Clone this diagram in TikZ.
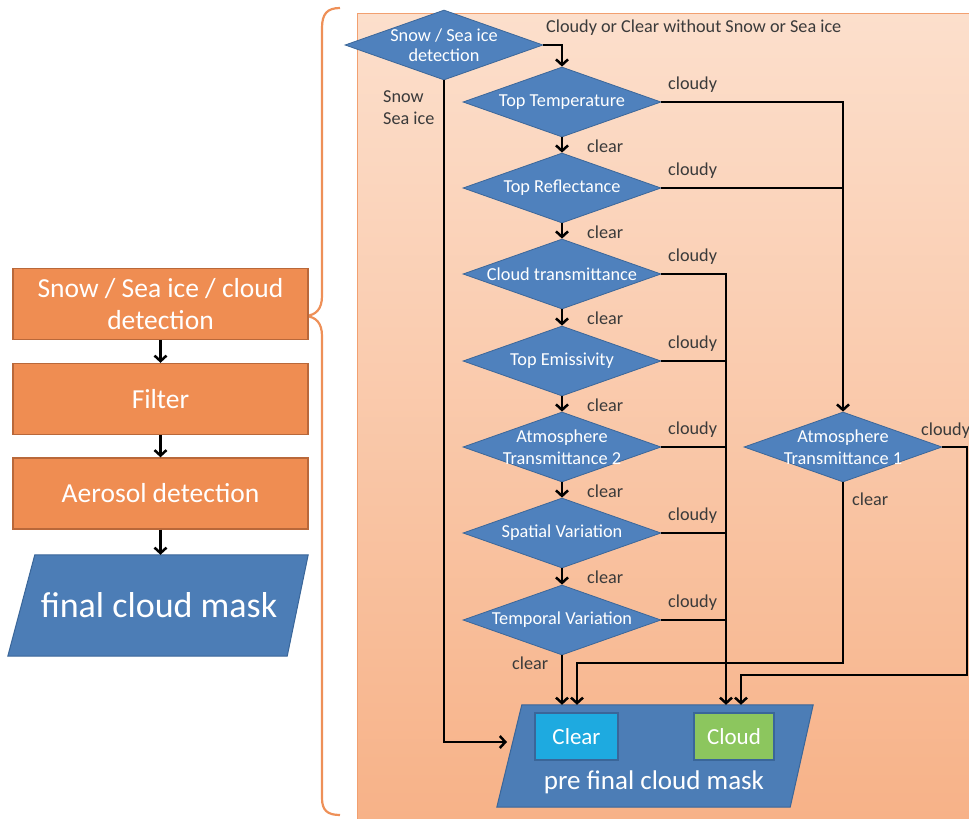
\documentclass[tikz,border=0pt]{standalone}
\usepackage{fontspec}
\setmainfont{Carlito}
\usetikzlibrary{shapes.geometric,arrows.meta,calc}

\definecolor{diafill}{HTML}{4F81BD}
\definecolor{diadraw}{HTML}{3C6799}
\definecolor{boxfill}{HTML}{EF8D52}
\definecolor{boxdraw}{HTML}{B9683A}
\definecolor{panTop}{HTML}{FCDFCC}
\definecolor{panBot}{HTML}{F7B288}
\definecolor{panEdge}{HTML}{F2A070}
\definecolor{braceCol}{HTML}{EE9058}
\definecolor{lbl}{HTML}{3A3A3A}
\definecolor{clrFill}{HTML}{1EAAE0}
\definecolor{cldFill}{HTML}{8CC65E}
\definecolor{maskFill}{HTML}{4C7DB6}
\definecolor{maskDraw}{HTML}{3A6699}

\begin{document}
\begin{tikzpicture}[x=1pt,y=-1pt,
  dia/.style={diamond, aspect=2.8, minimum width=198pt, minimum height=70pt,
    inner sep=-8pt, fill=diafill, draw=diadraw, line width=0.8pt,
    text=white, align=center, font=\fontsize{18.3}{20.5}\selectfont},
  stage/.style={rectangle, minimum width=295pt, minimum height=71pt, inner sep=0pt,
    fill=boxfill, draw=boxdraw, line width=1.4pt, text=white, align=center,
    font=\fontsize{27.5}{32}\selectfont},
  maskarea/.style={rectangle, inner sep=0pt, text=white},
  maskshape/.style={fill=maskFill, draw=maskDraw, line width=1pt},
  result/.style={rectangle, minimum height=47pt, inner sep=0pt, draw=maskDraw,
    line width=1.6pt, text=white, font=\fontsize{23}{26}\selectfont},
  lab/.style={text=lbl, inner sep=0pt, anchor=west, align=left,
    font=\fontsize{18.2}{22}\selectfont},
  conn/.style={line width=2.5pt, draw=black},
  arr/.style={conn, -{Straight Barb[length=5.5pt,width=12pt]}},
]
\useasboundingbox (0,0) rectangle (969,819);

% detection panel with its gradient
\shade[top color=panTop, bottom color=panBot] (357,13) rectangle (969,819);
\draw[panEdge, line width=0.8pt] (357,819) -- (357,13) -- (969,13);

% brace linking the first stage to the panel
\draw[braceCol, line width=2.2pt]
  (340,8) .. controls (327,8) and (322,14) .. (322,28) -- (322,296)
  .. controls (322,309) and (316,315) .. (306,316)
  .. controls (316,317) and (322,323) .. (322,336) -- (322,798)
  .. controls (322,810) and (327,815) .. (340,815);

% processing chain on the left
\node[stage] (b1) at (160.5,304) {Snow / Sea ice / cloud\\detection};
\node[stage] (b2) at (160.5,399) {Filter};
\node[stage] (b3) at (160.5,493.5) {Aerosol detection};
\node[maskarea, minimum width=300pt, minimum height=101pt] (fcm) at (158,605.5) {};
\filldraw[maskshape] ([xshift=27pt]fcm.north west) -- (fcm.north east)
  -- ([xshift=-21pt]fcm.south east) -- (fcm.south west) -- cycle;
\node[text=white, inner sep=0pt, font=\fontsize{36}{40}\selectfont] (fcmtext) at (159,605) {final cloud mask};
\draw[arr] (b1.south) -- (b2.north);
\draw[arr] (b2.south) -- (b3.north);
\draw[arr] (b3.south) -- (b3.south |- fcm.north);

% decision nodes
\node[dia] (snow) at (444,45) {Snow / Sea ice\\detection};
\node[dia] (tt)  at (562,102) {Top Temperature};
\node[dia] (tr)  at (562,188) {Top Reflectance};
\node[dia] (ct)  at (562,274) {Cloud transmittance};
\node[dia] (te)  at (562,361) {Top Emissivity};
\node[dia, font=\fontsize{18.3}{22}\selectfont] (at2) at (562,447) {Atmosphere\\Transmittance 2};
\node[dia] (sv)  at (562,533) {Spatial Variation};
\node[dia] (tv)  at (562,620) {Temporal Variation};
\node[dia, font=\fontsize{18.3}{22}\selectfont] (at1) at (843,447) {Atmosphere\\Transmittance 1};

% output mask
\node[maskarea, minimum width=316pt, minimum height=102pt] (pfm) at (655,756) {};
\filldraw[maskshape] ([xshift=25pt]pfm.north west) -- (pfm.north east)
  -- ([xshift=-23pt]pfm.south east) -- (pfm.south west) -- cycle;
\node[text=white, inner sep=0pt, font=\fontsize{27}{30}\selectfont] (pfmtext) at (654,782) {pre final cloud mask};
\node[result, fill=clrFill, minimum width=83pt] (clr) at (576.5,736.5) {Clear};
\node[result, fill=cldFill, minimum width=80pt] (cld) at (734,736.5) {Cloud};

% branch labels
\node[lab] (lcc) at (546,28) {Cloudy or Clear without Snow or Sea ice};
\node[lab] (lsnow) at (383,108) {Snow\\Sea ice};
\foreach \n/\y in {tt/102,tr/188,ct/274,te/361,at2/447,sv/533,tv/620}{
  \node[lab] (cy-\n) at (668,\y-17) {cloudy};
}
\foreach \n/\y in {tt/102,tr/188,ct/274,te/361,at2/447,sv/533}{
  \node[lab] (cl-\n) at (587,\y+44) {clear};
}
\node[lab] (cl-tv) at (512,663) {clear};
\node[lab] (cl-at1) at (852,499) {clear};
\node[lab] (cy-at1) at (921,431) {cloudy};

% entry points on the output mask
\coordinate (inClrA) at (562,0 |- pfm.north);
\coordinate (inClrB) at (577,0 |- pfm.north);
\coordinate (inCldA) at (726,0 |- pfm.north);
\coordinate (inCldB) at (741,0 |- pfm.north);
\coordinate (jClr) at (577,663);
\coordinate (jCld) at (741,675);
\coordinate (edgeR) at (967,447);
\coordinate (snowIn) at (507,742);

% connectors
\draw[arr] (snow.east) -| (tt.north);
\draw[arr] (snow.south) |- (snowIn);
\draw[arr] (tt.south) -- (tr.north);
\draw[arr] (tr.south) -- (ct.north);
\draw[arr] (ct.south) -- (te.north);
\draw[arr] (te.south) -- (at2.north);
\draw[arr] (at2.south) -- (sv.north);
\draw[arr] (sv.south) -- (tv.north);
\draw[arr] (tv.south) -- (inClrA);

\draw[arr] (tt.east) -| (at1.north);
\draw[conn] (tr.east) -- (tr.east -| at1.north);

\draw[arr] (ct.east) -| (inCldA);
\draw[conn] (te.east) -- (te.east -| inCldA);
\draw[conn] (at2.east) -- (at2.east -| inCldA);
\draw[conn] (sv.east) -- (sv.east -| inCldA);
\draw[conn] (tv.east) -- (tv.east -| inCldA);

\draw[arr] (at1.south) |- (jClr) -- (inClrB);
\draw[arr] (at1.east) -- (edgeR) |- (jCld) -- (inCldB);
\end{tikzpicture}
\end{document}
